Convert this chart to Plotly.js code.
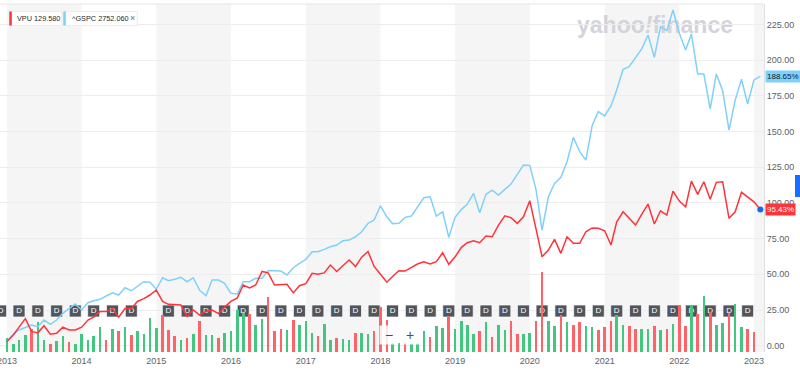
<!DOCTYPE html>
<html><head><meta charset="utf-8">
<script src="https://cdn.plot.ly/plotly-3.0.1.min.js"></script>
<style>html,body{margin:0;padding:0;background:#fff;overflow:hidden}#chart{width:800px;height:371px}</style>
</head><body><div id="chart"></div>
<script>
// ---------- DATA ----------
const firstMonth = [2013, 1];           // monthly points start Jan 2013
const vpuPct = [3,7.5,13,19,10,9,14,8,8.7,13,11,11,
  13,18,20,24,24,26,20,26,26,31,33,35.5,
  39,31,29,28.5,28.5,20.5,25,21.5,24,25,22.5,27,
  31,33.5,42.5,40.5,42.5,52,51,42.5,42.5,43,37,42,
  43.5,50.7,50,51,56.5,52,56,60,55.5,62,66,55.5,
  50,44.5,48.5,52.5,52.3,54.9,57.2,58.8,57.2,58.8,65.1,57,
  62.3,68.9,72.1,73.5,72.1,76.8,76.3,84.5,91,89.6,85.7,90.3,
  101.5,81.5,62.3,67,74.5,64.7,76.3,71.7,71.7,79.8,82.5,82.2,
  80.5,70.5,86.8,93.8,89.2,84.5,92,99.2,85.2,94.5,91.5,108.3,
  101.3,97.3,115.3,106,114.8,102.5,114.4,114.8,89.2,93.8,107.4,103.9,
  100.8,95.43];
const gspcPct = [3,8,11,12.6,14.5,13.3,18,15,18,22.7,26.2,29.2,
  25,30.1,31.5,32.5,34.8,37.1,35.5,40.6,38.5,41.8,44.8,44.4,
  39.5,47.6,45.5,46.5,47.9,44.8,47.6,38.8,35,46,46,43.7,
  36.7,36.2,44.8,44.8,47.2,47.2,52.5,52.5,52.3,49.5,54.6,57.7,
  60.5,65.8,65.8,67.5,69.3,70.5,73.5,74,76.3,79.8,85.7,88,
  98,90.3,85.5,85.7,89.9,90.8,97.3,103.6,104.3,90.8,93.8,75.9,
  89.9,95.5,99,106.7,93.1,106,109,105.5,109.5,113.2,120,126.5,
  126.3,109,81,104.3,113.7,117.9,128.9,145.9,135.9,130,154.2,163.9,
  160.9,167.9,179.1,193.6,195.4,201.3,207.8,217.6,202,223.4,220.6,235.1,
  218.8,207.1,218.3,190.3,190.3,165.8,190.3,178.6,151,172,186.6,169.3,
  186.1,188.65];
// monthly volume (millions of shares, relative) and bar direction (u = up, d = down)
const volume = [1.4,0.77,1.17,1.67,2.33,3.0,1.23,0.77,1.07,1.6,1.0,0.83,
  1.77,1.23,1.57,2.5,1.17,2.27,2.07,2.5,1.67,2.07,1.77,3.43,
  2.43,3.73,2.23,1.57,1.17,1.4,1.83,3.1,1.73,1.73,1.4,1.93,
  2.07,4.23,3.9,3.83,2.67,3.27,5.5,2.1,2.33,2.23,3.23,2.73,
  3.07,1.9,1.6,2.83,1.17,1.4,1.33,1.17,1.9,1.93,1.77,2.1,
  4.5,3.17,0.9,0.9,1.0,0.83,0.9,2.07,1.5,2.6,2.43,3.57,
  2.33,3.1,2.67,1.83,2.1,3.0,1.5,2.67,2.17,3.1,1.83,1.83,
  1.93,3.1,8.0,3.1,2.6,3.67,3.0,2.67,3.0,2.6,2.5,2.17,
  2.5,3.07,3.67,2.67,2.57,2.27,2.33,2.33,2.6,2.23,2.27,2.83,
  4.67,2.57,4.67,3.77,5.6,4.0,2.67,2.93,3.9,4.83,2.5,2.27,
  2.0];
const volumeDir = ['u','u','u','u','d','u','u','d','u','u','d','u',
  'u','u','u','u','d','u','d','u','d','u','u','u',
  'u','d','d','d','u','d','u','d','u','u','d','u',
  'u','u','u','d','u','u','d','d','d','u','d','u',
  'u','u','d','u','u','d','u','u','d','u','u','d',
  'd','d','u','u','d','u','u','u','d','u','u','d',
  'u','u','u','u','d','u','d','u','u','d','d','u',
  'u','d','d','u','u','d','u','d','d','u','u','d',
  'd','d','u','u','d','d','u','u','d','u','d','u',
  'd','d','u','d','u','d','u','u','d','u','u','d',
  'd'];
const dividendDates = ['2012-12-01','2013-03-01','2013-06-01','2013-09-01','2013-12-01',
  '2014-03-01','2014-06-01','2014-09-01','2015-03-01','2015-06-01','2015-09-01','2015-12-01',
  '2016-03-01','2016-06-01','2016-09-01','2016-12-01','2017-03-01','2017-06-01','2017-09-01','2017-12-01',
  '2018-03-01','2018-06-01','2018-09-01','2018-12-01','2019-03-01','2019-06-01','2019-09-01','2019-12-01',
  '2020-03-01','2020-06-01','2020-09-01','2020-12-01','2021-03-01','2021-06-01','2021-09-01','2021-12-01',
  '2022-03-01','2022-06-01','2022-09-01','2022-12-01'];
const dividendLevel = 24.3;
const shadedYears = [2013, 2015, 2017, 2019, 2021, 2023];
const yTicks = [0,25,50,75,100,125,150,175,200,225];
const firstYearLabel = '2013';
const seriesNames = ['VPU', '^GSPC'];
const seriesQuotes = ['129.580', '2752.060'];

// ---------- helpers ----------
function monthDate(i){
  const y = firstMonth[0] + Math.floor((firstMonth[1]-1+i)/12);
  const m = ((firstMonth[1]-1+i)%12)+1;
  return y + '-' + String(m).padStart(2,'0') + '-01';
}
const months = vpuPct.map((_, i) => monthDate(i));
const volMonths = volume.map((_, i) => monthDate(i));

const RED = '#ff333a', BLUE = '#7fd1fb', GREEN_BAR = '#43c67f', RED_BAR = '#ff6367';
const PW = 764, PT = 4, PB = 352;           // plot area in pixels
const px = x => x / PW;
const py = y => (PB - y) / (PB - PT);
const F = 'Liberation Sans, Arial, sans-serif';

const traces = [
  { // dividend markers
    x: dividendDates, y: dividendDates.map(() => dividendLevel), yaxis: 'y',
    type: 'scatter', mode: 'markers+text', text: dividendDates.map(() => 'D'),
    textposition: 'middle center', cliponaxis: true,
    textfont: {family: F, size: 8, color: '#ffffff'},
    marker: {symbol: 'square', size: 12, color: '#51565c', line: {color: 'rgba(255,255,255,0.7)', width: 1}},
    hoverinfo: 'skip'
  },
  { // volume bars
    x: volMonths, y: volume, yaxis: 'y2', type: 'bar',
    marker: {color: volumeDir.map(d => d === 'u' ? GREEN_BAR : RED_BAR), line: {width: 0}},
    width: 1.1e9, hoverinfo: 'skip'
  },
  { // S&P 500
    x: months, y: gspcPct, yaxis: 'y3', type: 'scatter', mode: 'lines',
    line: {color: BLUE, width: 1.5}, hoverinfo: 'skip'
  },
  { // VPU
    x: months, y: vpuPct, yaxis: 'y3', type: 'scatter', mode: 'lines',
    line: {color: RED, width: 1.5}, hoverinfo: 'skip'
  },
  { // current-value dot
    x: [months[months.length-1]], y: [vpuPct[vpuPct.length-1]], yaxis: 'y3',
    type: 'scatter', mode: 'markers', cliponaxis: false,
    marker: {color: '#0f69ff', size: 6}, hoverinfo: 'skip'
  }
];

const yRange = [-4.4, 239.3];
const shapes = shadedYears.map(yr => ({
  type: 'rect', xref: 'x', yref: 'paper', x0: yr + '-01-01', x1: (yr+1) + '-01-01',
  y0: 0, y1: 1, fillcolor: '#f5f5f5', line: {width: 0}, layer: 'below'
}));
shapes.push({type: 'rect', xref: 'paper', yref: 'paper', x0: px(560), x1: px(750), y0: py(36), y1: py(10),
  fillcolor: 'rgba(0,0,0,0)', line: {width: 0}, layer: 'below',
  label: {text: 'yahoo<i>!</i>finance', textposition: 'middle center',
    font: {family: F, size: 23, color: '#d3d3db', weight: 'bold'}}});
shapes.push({type: 'line', xref: 'paper', yref: 'paper', x0: 0, x1: 1, y0: 1, y1: 1, line: {color: '#e6e6e6', width: 1}});
// legend chips
shapes.push({type: 'rect', xref: 'paper', yref: 'paper', x0: px(9.3), x1: px(61.7), y0: py(25.5), y1: py(11.5),
  fillcolor: '#ffffff', line: {color: '#ececec', width: 1}, layer: 'above'});
shapes.push({type: 'rect', xref: 'paper', yref: 'paper', x0: px(9.3), x1: px(11.8), y0: py(25.5), y1: py(11.5),
  fillcolor: RED, line: {width: 0}, layer: 'above'});
shapes.push({type: 'rect', xref: 'paper', yref: 'paper', x0: px(63.3), x1: px(137.3), y0: py(25.5), y1: py(11.5),
  fillcolor: '#ffffff', line: {color: '#ececec', width: 1}, layer: 'above'});
shapes.push({type: 'rect', xref: 'paper', yref: 'paper', x0: px(63.3), x1: px(65.8), y0: py(25.5), y1: py(11.5),
  fillcolor: BLUE, line: {width: 0}, layer: 'above'});
// blue side tab
shapes.push({type: 'rect', xref: 'paper', yref: 'paper', x0: px(795), x1: px(802), y0: py(197), y1: py(175),
  fillcolor: '#1b6cff', line: {width: 0}, layer: 'above'});

const annotations = [
  {xref: 'paper', yref: 'paper', x: px(15.3), y: py(18.5), xanchor: 'left', yanchor: 'middle', showarrow: false,
   text: seriesNames[0] + ' ' + seriesQuotes[0], font: {family: F, size: 7.3, color: '#232a31'}},
  {xref: 'paper', yref: 'paper', x: px(69.5), y: py(18.5), xanchor: 'left', yanchor: 'middle', showarrow: false,
   text: seriesNames[1] + ' ' + seriesQuotes[1], font: {family: F, size: 7.3, color: '#232a31'}},
  {xref: 'paper', yref: 'paper', x: px(132.5), y: py(18.5), xanchor: 'center', yanchor: 'middle', showarrow: false,
   text: '×', font: {family: F, size: 9, color: '#6b7078'}},
  {xref: 'paper', yref: 'y', x: 1, y: gspcPct[gspcPct.length-1], xanchor: 'left', yanchor: 'middle', xshift: 1,
   showarrow: false, text: gspcPct[gspcPct.length-1].toFixed(2) + '%', bgcolor: BLUE, borderpad: 1,
   font: {family: F, size: 8, color: '#0b1f33'}},
  {xref: 'paper', yref: 'y', x: 1, y: vpuPct[vpuPct.length-1], xanchor: 'left', yanchor: 'middle', xshift: 1,
   showarrow: false, text: vpuPct[vpuPct.length-1].toFixed(2) + '%', bgcolor: RED, borderpad: 1,
   font: {family: F, size: 8, color: '#ffffff'}},
  {xref: 'x', yref: 'paper', x: firstYearLabel + '-01-01', y: py(361), xanchor: 'center', yanchor: 'middle',
   showarrow: false, text: firstYearLabel, font: {family: F, size: 9, color: '#5b636a'}},
  {xref: 'paper', yref: 'paper', x: px(389), y: py(335), xanchor: 'center', yanchor: 'middle', showarrow: false,
   text: '−', width: 16, height: 16, bgcolor: 'rgba(255,255,255,0.85)', font: {family: F, size: 14, color: '#4a4f55'}},
  {xref: 'paper', yref: 'paper', x: px(410), y: py(335), xanchor: 'center', yanchor: 'middle', showarrow: false,
   text: '+', width: 16, height: 16, bgcolor: 'rgba(255,255,255,0.85)', font: {family: F, size: 14, color: '#4a4f55'}}
];

const layout = {
  width: 800, height: 371,
  margin: {l: 0, r: 36, t: PT, b: 371 - PB, pad: 0},
  paper_bgcolor: '#ffffff', plot_bgcolor: 'rgba(0,0,0,0)',
  showlegend: false, bargap: 0,
  font: {family: F, size: 9, color: '#5b636a'},
  xaxis: {type: 'date', range: ['2012-11-28', '2023-02-19'], showgrid: false, zeroline: false,
    tickformat: '%Y', dtick: 'M12', tick0: '2013-01-01', ticks: '', showline: false, ticklabelstandoff: 2,
    tickfont: {family: F, size: 9, color: '#5b636a'}, fixedrange: true},
  yaxis: {range: yRange, side: 'right', tickvals: yTicks, tickformat: '.2f', ticksuffix: '%',
    gridcolor: '#ededed', gridwidth: 1, zeroline: false, showline: true, linecolor: '#e0e0e0', ticks: '',
    tickfont: {family: F, size: 9, color: '#5b636a'}, fixedrange: true},
  yaxis2: {overlaying: 'y', range: [0, 34.8], visible: false, fixedrange: true},
  yaxis3: {overlaying: 'y', range: yRange, visible: false, fixedrange: true},
  shapes: shapes,
  annotations: annotations
};

Plotly.newPlot('chart', traces, layout, {displayModeBar: false, staticPlot: true});
</script>
</body></html>
